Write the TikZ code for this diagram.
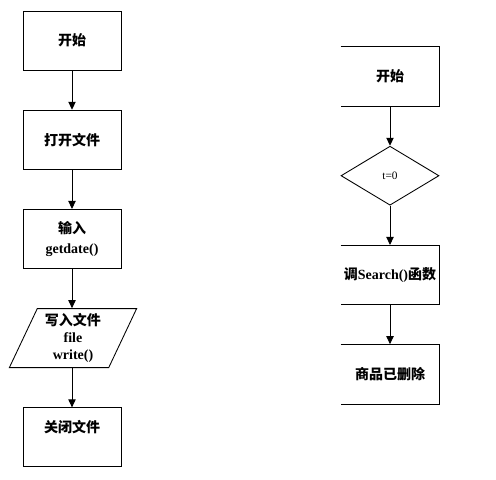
\documentclass[tikz,border=0pt]{standalone}
\usepackage{fontspec}
\setmainfont{Liberation Serif}
\newfontfamily\cjk{Noto Sans CJK SC}
\usetikzlibrary{arrows.meta,positioning,shapes.geometric}

\begin{document}
\begin{tikzpicture}[
  x=0.75pt, y=-0.75pt,
  node distance=29.5pt,
  box/.style={draw, line width=0.65pt, align=center, inner sep=0pt,
              minimum width=73.5pt, minimum height=44.25pt,
              font=\bfseries\fontsize{10.5}{12.75}\selectfont},
  openbox/.style={box, draw=none},
  decide/.style={box, diamond, aspect=1.66, font=\fontsize{8.5}{10}\selectfont},
  io/.style={box, trapezium, trapezium left angle=66, trapezium right angle=114,
             trapezium stretches=true, minimum width=96pt},
  arr/.style={-{Triangle[length=6pt,width=5.5pt]}, line width=0.65pt}
]
\useasboundingbox (0,0) rectangle (496,479);
% left flow
\node[box] (start) at (72,40.5) {\cjk 开始};
\node[box, below=of start] (open) {\cjk 打开文件};
\node[box, below=of open] (input) {\cjk 输入\\[2.5pt]getdate()};
\node[io, below=of input, xshift=0.75pt] (write) {\cjk 写入文件\\file\\write()};
\node[box, below=of write.south -| input, anchor=north] (close) {\cjk 关闭文件\\\strut};
\draw[arr] (start) -- (open);
\draw[arr] (open) -- (input);
\draw[arr] (input) -- (input |- write.north);
\draw[arr] (input |- write.south) -- (close);
% right flow
\node[openbox] (begin) at (390,76.5) {\cjk 开始};
\node[decide, below=of begin] (test) {t=0};
\node[openbox, below=of test] (search) {{\cjk 调}Search(){\cjk 函数}};
\node[openbox, below=of search] (done) {\cjk 商品已删除};
\foreach \n in {begin,search,done}
  \draw[line width=0.65pt] (\n.north west) -- (\n.north east) -- (\n.south east) -- (\n.south west);
\draw[arr] (begin) -- (test);
\draw[arr] (test) -- (search);
\draw[arr] (search) -- (done);
\end{tikzpicture}
\end{document}
